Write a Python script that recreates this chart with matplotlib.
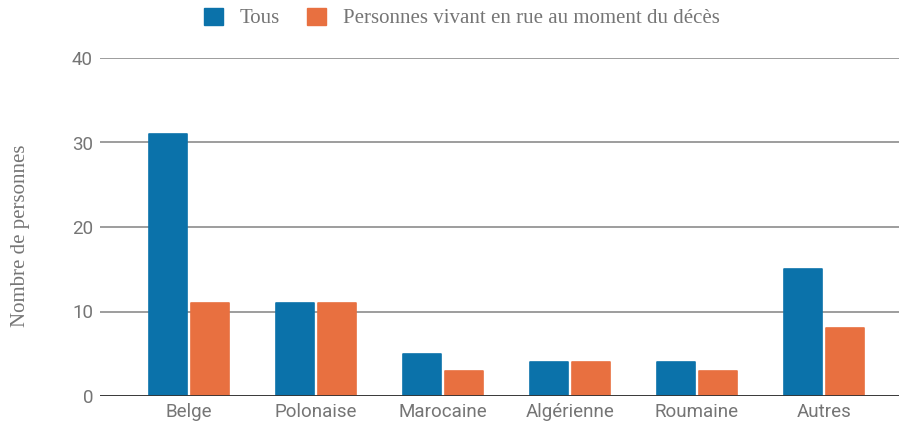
import numpy as np
import matplotlib
matplotlib.use("Agg")
import matplotlib.pyplot as plt
from matplotlib.patches import Patch

categories = ["Belge", "Polonaise", "Marocaine", "Algérienne", "Roumaine", "Autres"]
tous = [31, 11, 5, 4, 4, 15]
en_rue = [11, 11, 3, 4, 3, 8]
series_names = ["Tous", "Personnes vivant en rue au moment du décès"]
yticks = [0, 10, 20, 30, 40]

blue = "#0b72aa"
orange = "#e87040"
text_grey = "#757575"

fig = plt.figure(figsize=(8.99, 4.25), dpi=100)
ax = fig.add_axes([100 / 899, 29 / 425, 799 / 899, 338 / 425])

x = np.arange(len(categories))
w = 0.30
off = 0.165
for xs, vals, col in [(x - off, tous, blue), (x + off, en_rue, orange)]:
    ax.bar(xs, vals, width=w, color=col, edgecolor=col, linewidth=1.2,
           joinstyle="round", zorder=3)

ax.set_xlim(-0.70, 5.59)
ax.set_ylim(0, 40)
ax.set_yticks(yticks)
ax.yaxis.grid(True, color="#959595", linewidth=1.3, zorder=0)
ax.axhline(0, color="#333333", linewidth=1.3, zorder=4)
for s in ax.spines.values():
    s.set_visible(False)
ax.tick_params(length=0)
ax.set_xticks(x)
ax.set_xticklabels(categories, family="Roboto", fontsize=13.5, color=text_grey)
ax.tick_params(axis="x", pad=5)
ax.tick_params(axis="y", pad=5)
for t in ax.get_yticklabels():
    t.set_family("Roboto")
    t.set_fontsize(13.5)
    t.set_color(text_grey)

ax.set_ylabel("Nombre de personnes", family="Liberation Serif", fontsize=15,
              color=text_grey, va="center")
ax.yaxis.set_label_coords(-0.100, 0.473)

handles = [Patch(facecolor=blue, edgecolor=blue), Patch(facecolor=orange, edgecolor=orange)]
leg = fig.legend(handles, series_names, loc="center", bbox_to_anchor=(462 / 899, 1 - 18 / 425),
                 ncol=2, frameon=False, handlelength=0.9, handleheight=0.9,
                 handletextpad=0.8, columnspacing=1.3,
                 prop={"family": "Liberation Serif", "size": 15})
for t in leg.get_texts():
    t.set_color(text_grey)

fig.savefig("out.png", dpi=100)
